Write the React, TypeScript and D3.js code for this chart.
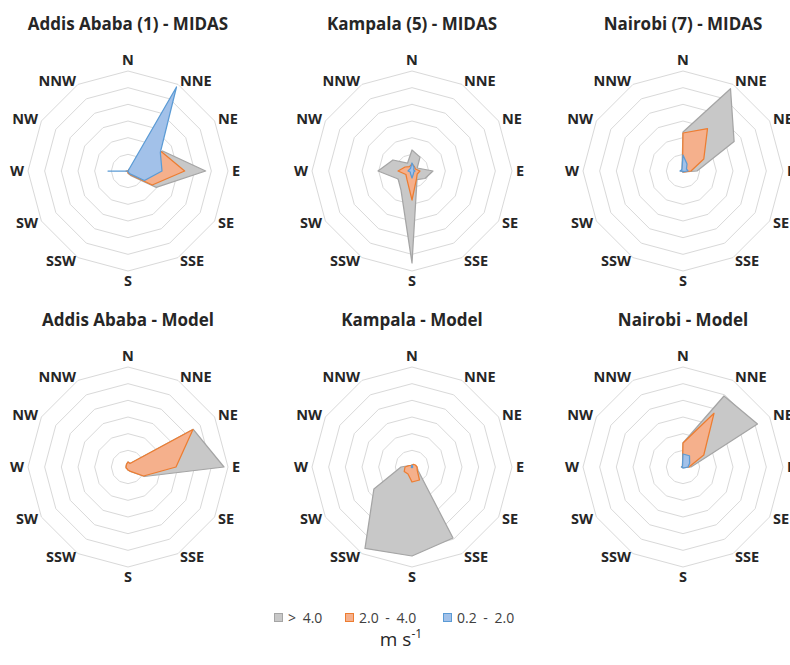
import { useRef, useEffect } from "react";
import * as d3 from "d3";

// wind direction sectors, clockwise from north
const directions = ["N", "NNE", "NE", "E", "SE", "SSE", "S", "SSW", "SW", "W", "NW", "NNW"];
const speedClasses = ["> 4.0", "2.0 - 4.0", "0.2 - 2.0"];
const titles = [
  "Addis Ababa (1) - MIDAS",
  "Kampala (5) - MIDAS",
  "Nairobi (7) - MIDAS",
  "Addis Ababa - Model",
  "Kampala - Model",
  "Nairobi - Model",
];

// frequency (%) per direction, N .. NNW
const addisMidasHigh = [0, 0.3, 12, 23.3, 9.8, 1.5, 0.6, 0, 0, 0.3, 0, 0];
const addisMidasMid = [0, 0.6, 11.6, 17, 8.4, 1.2, 0.6, 0, 0, 0.6, 0, 0];
const addisMidasLow = [0, 29.1, 11.2, 10.2, 5.7, 0.9, 0, 0, 0, 6, 0, 0];

const kampalaMidasHigh = [6.3, 4.8, 1.8, 6.3, 4.5, 3, 27.6, 6.6, 4.8, 10.2, 6.6, 2.7];
const kampalaMidasMid = [2.1, 1.5, 1.2, 2.4, 1.8, 2.7, 8.7, 3, 2.1, 4.2, 2.4, 1.5];
const kampalaMidasLow = [2.4, 1.2, 0.6, 0.9, 0.6, 0.9, 2.1, 0.9, 0.6, 1.2, 0.9, 0.9];

const nairobiMidasHigh = [11.7, 28.5, 17.7, 4.2, 0.6, 0.3, 0.3, 0, 0, 0.3, 0.3, 0.6];
const nairobiMidasMid = [11.4, 14.7, 7.2, 2.4, 0.6, 0.3, 0.3, 0, 0, 0.6, 0.3, 0.3];
const nairobiMidasLow = [4.8, 2.4, 1.2, 1.5, 0.3, 0.3, 0.3, 0, 0, 0.9, 0.6, 0.6];

const addisModelHigh = [1.5, 1.2, 22.6, 28.8, 5.7, 1.5, 0.9, 0.6, 0.6, 0.6, 0.6, 0.9];
const addisModelMid = [1.5, 1.2, 22.5, 14.4, 5.4, 1.5, 0.9, 0.6, 0.6, 0.6, 0.6, 0.9];
const addisModelLow = [0, 0, 0, 0, 0, 0, 0, 0, 0, 0, 0, 0];

const kampalaModelHigh = [0.6, 0.6, 0.9, 1.5, 2.1, 24.6, 26.7, 28.2, 13.2, 3.3, 0.9, 0.6];
const kampalaModelMid = [0.6, 0.9, 1.2, 1.5, 1.8, 4.5, 4.5, 2.4, 2.7, 2.1, 0.9, 0.6];
const kampalaModelLow = [0.5, 0.3, 0.2, 0.2, 0.2, 0.2, 0.2, 0.2, 0.2, 0.2, 0.2, 0.3];

const nairobiModelHigh = [7.2, 24.6, 25.8, 2.4, 0.3, 0.2, 0.2, 0, 0, 0.3, 0.3, 0.3];
const nairobiModelMid = [7.2, 18.6, 7.2, 1.8, 0.3, 0.2, 0.2, 0, 0, 0.3, 0.3, 0.3];
const nairobiModelLow = [3.9, 3.9, 2.3, 1.5, 0.5, 0.3, 0.3, 0.2, 0.2, 0.5, 0.3, 0.3];

const panelSeries = [
  [addisMidasHigh, addisMidasMid, addisMidasLow],
  [kampalaMidasHigh, kampalaMidasMid, kampalaMidasLow],
  [nairobiMidasHigh, nairobiMidasMid, nairobiMidasLow],
  [addisModelHigh, addisModelMid, addisModelLow],
  [kampalaModelHigh, kampalaModelMid, kampalaModelLow],
  [nairobiModelHigh, nairobiModelMid, nairobiModelLow],
];

const ringValues = [5, 10, 15, 20, 25, 30];

export default function App() {
  const ref = useRef<HTMLDivElement>(null);

  function init() {
    if (!ref.current) return;
    ref.current.innerHTML = "";

    const width = 790,
      height = 665,
      R = 100;

    const fills = ["#c8c8c8", "#f5b08c", "#a2c1e9"];
    const strokes = ["#a5a5a5", "#ed7d31", "#5b9bd5"];

    const colX = [128, 412, 683];
    const rowY = [171, 467];

    const svg = d3
      .select(ref.current)
      .append("svg")
      .attr("width", width)
      .attr("height", height)
      .style("position", "absolute")
      .style("left", 0)
      .style("top", 0)
      .style("font-family", "'Open Sans', sans-serif");

    const r = d3.scaleLinear().domain([0, 30]).range([0, R]);
    const angle = d3
      .scalePoint<string>()
      .domain(directions)
      .range([0, 2 * Math.PI * (11 / 12)]);

    const radial = d3
      .lineRadial<number>()
      .angle((_, i) => angle(directions[i]) as number)
      .radius((d) => r(d))
      .curve(d3.curveLinearClosed);

    panelSeries.forEach((series, p) => {
      const cx = colX[p % 3],
        cy = rowY[Math.floor(p / 3)];
      const g = svg.append("g").attr("transform", `translate(${cx},${cy})`);

      // rings
      g.selectAll("path.ring")
        .data(ringValues)
        .join("path")
        .attr("class", "ring")
        .attr("d", (v) => radial(directions.map(() => v)))
        .attr("fill", "none")
        .attr("stroke", "#d9d9d9")
        .attr("stroke-width", 1);

      // series, largest class at the back
      g.selectAll("path.series")
        .data(series)
        .join("path")
        .attr("class", "series")
        .attr("d", (d) => radial(d))
        .attr("fill", (_, i) => fills[i])
        .attr("stroke", (_, i) => strokes[i])
        .attr("stroke-width", 1.25)
        .attr("stroke-linejoin", "round");

      // direction labels
      directions.forEach((dir) => {
        const a = angle(dir) as number;
        const s = Math.sin(a),
          c = Math.cos(a);
        let x = (R + 4) * s,
          y = -(R + 4) * c + 5;
        let anchor = "middle";
        if (s > 0.01) anchor = "start";
        else if (s < -0.01) anchor = "end";
        else y = c > 0 ? -(R + 6) : R + 14.5;
        g.append("text")
          .attr("x", x)
          .attr("y", y)
          .attr("text-anchor", anchor)
          .attr("font-size", 14.5)
          .attr("font-weight", "bold")
          .attr("fill", "#262626")
          .text(dir);
      });

      // title
      g.append("text")
        .attr("x", 0)
        .attr("y", -141)
        .attr("text-anchor", "middle")
        .attr("font-size", 17)
        .attr("font-weight", "bold")
        .attr("fill", "#262626")
        .text(titles[p]);
    });

    // legend
    const legendX = [274, 345, 443];
    const legend = svg.append("g").attr("transform", "translate(0,613)");
    speedClasses.forEach((name, i) => {
      legend
        .append("rect")
        .attr("x", legendX[i] + 0.5)
        .attr("y", 0.5)
        .attr("width", 8)
        .attr("height", 8)
        .attr("fill", fills[i])
        .attr("stroke", strokes[i]);
      legend
        .append("text")
        .attr("x", legendX[i] + 14)
        .attr("y", 9.5)
        .attr("font-size", 14)
        .attr("fill", "#404040")
        .style("word-spacing", "3px")
        .text(name);
    });

    // unit label
    const unit = svg
      .append("text")
      .attr("x", 401)
      .attr("y", 646)
      .attr("text-anchor", "middle")
      .attr("font-size", 19)
      .attr("fill", "#262626");
    unit.append("tspan").text("m s");
    unit.append("tspan").attr("font-size", 12).attr("dy", -8).text("-1");
  }

  useEffect(init, []);

  return (
    <>
      <div ref={ref}></div>
    </>
  );
}
